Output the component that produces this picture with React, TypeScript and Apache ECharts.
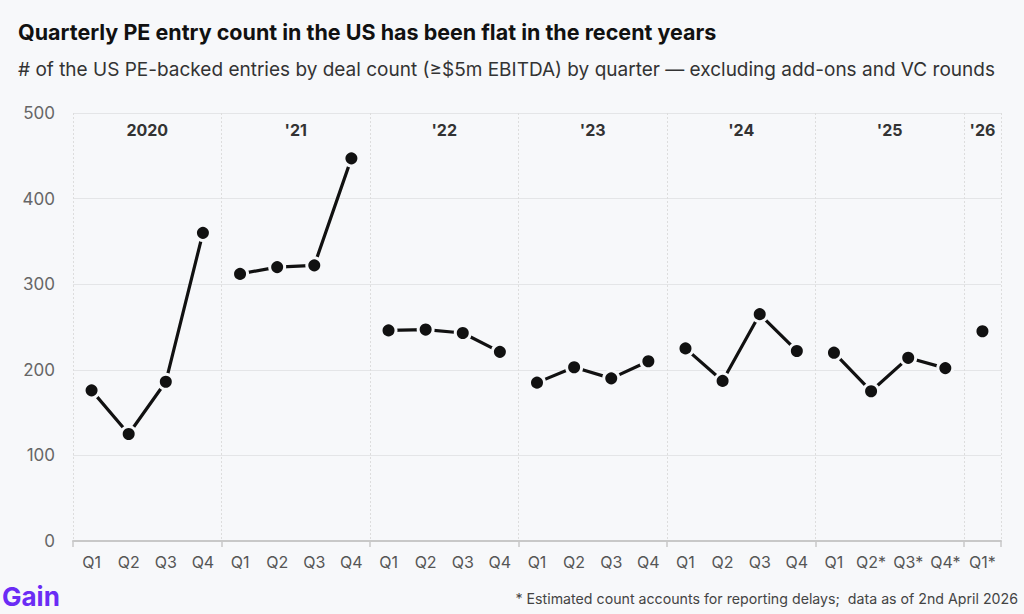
import React, { useEffect, useRef } from "react";
import * as echarts from "echarts";

const quarters = [
  "Q1", "Q2", "Q3", "Q4",
  "Q1", "Q2", "Q3", "Q4",
  "Q1", "Q2", "Q3", "Q4",
  "Q1", "Q2", "Q3", "Q4",
  "Q1", "Q2", "Q3", "Q4",
  "Q1", "Q2*", "Q3*", "Q4*",
  "Q1*",
];
const years = ["2020", "'21", "'22", "'23", "'24", "'25", "'26"];
const v2020 = [176, 125, 186, 360];
const v2021 = [312, 320, 322, 447];
const v2022 = [246, 247, 243, 221];
const v2023 = [185, 203, 190, 210];
const v2024 = [225, 187, 265, 222];
const v2025 = [220, 175, 214, 202];
const v2026 = [245];
const yearValues = [v2020, v2021, v2022, v2023, v2024, v2025, v2026];

const BG = "#f7f8fa";
const FONT = "Inter, 'Noto Sans', sans-serif";

export default function App() {
  const ref = useRef<HTMLDivElement>(null);
  useEffect(() => {
    if (!ref.current) return;
    const chart = echarts.init(ref.current, null, { renderer: "svg" });
    const series = yearValues.map((vals, yi) => {
      const data: (number | null)[] = quarters.map(() => null);
      vals.forEach((v, k) => {
        data[yi * 4 + k] = v;
      });
      return {
        type: "line",
        data,
        connectNulls: false,
        symbol: "circle",
        symbolSize: 15,
        lineStyle: { color: "#111", width: 3.2 },
        itemStyle: { color: "#111", borderColor: BG, borderWidth: 3 },
        z: 3,
      };
    });
    chart.setOption({
      animation: false,
      backgroundColor: BG,
      textStyle: { fontFamily: FONT },
      grid: { left: 73, right: 23, top: 113, bottom: 73 },
      xAxis: {
        type: "category",
        data: quarters,
        boundaryGap: true,
        axisLine: { lineStyle: { color: "#c8c8c8", width: 2 } },
        axisTick: {
          show: true,
          length: 6,
          interval: (i: number) => i % 4 === 0,
          lineStyle: { color: "#c8c8c8", width: 1.5 },
        },
        axisLabel: { color: "#555", fontSize: 16, margin: 13, fontFamily: FONT, interval: 0 },
        splitLine: {
          show: true,
          interval: (i: number) => i % 4 === 0,
          lineStyle: { color: "#dddddd", type: [2, 2], width: 1 },
        },
      },
      yAxis: {
        type: "value",
        min: 0,
        max: 500,
        interval: 100,
        axisLine: { show: false },
        axisTick: { show: false },
        axisLabel: { color: "#666", fontSize: 17, margin: 18, fontFamily: FONT },
        splitLine: { lineStyle: { color: "#e4e5e7", width: 1 } },
      },
      series,
    });
    const yTop = chart.convertToPixel({ yAxisIndex: 0 }, 500) as number;
    const labels = years.map((y, yi) => {
      const n = yearValues[yi].length;
      const a = chart.convertToPixel({ xAxisIndex: 0 }, yi * 4) as number;
      const b = chart.convertToPixel({ xAxisIndex: 0 }, yi * 4 + n - 1) as number;
      return {
        type: "text",
        x: (a + b) / 2,
        y: yTop + 17,
        style: {
          text: y,
          font: `bold 16px ${FONT}`,
          fill: "#333",
          align: "center",
          verticalAlign: "middle",
        },
      };
    });
    chart.setOption({
      graphic: [
        {
          type: "text",
          left: 18,
          top: 21,
          style: {
            text: "Quarterly PE entry count in the US has been flat in the recent years",
            font: `bold 21.5px ${FONT}`,
            fill: "#111",
          },
        },
        {
          type: "text",
          left: 18,
          top: 60,
          style: {
            text: "# of the US PE-backed entries by deal count (≥$5m EBITDA) by quarter — excluding add-ons and VC rounds",
            font: `19px ${FONT}`,
            fill: "#333",
          },
        },
        {
          type: "text",
          left: 2,
          top: 583,
          style: { text: "Gain", font: `bold 26px ${FONT}`, fill: "#6b2cf5" },
        },
        {
          type: "text",
          right: 6,
          top: 591,
          style: {
            text: "* Estimated count accounts for reporting delays;  data as of 2nd April 2026",
            font: `14.2px ${FONT}`,
            fill: "#444",
          },
        },
        ...labels,
      ],
    });
    return () => chart.dispose();
  }, []);
  return <div ref={ref} style={{ width: 1024, height: 614, position: "absolute", left: 0, top: 0 }} />;
}
